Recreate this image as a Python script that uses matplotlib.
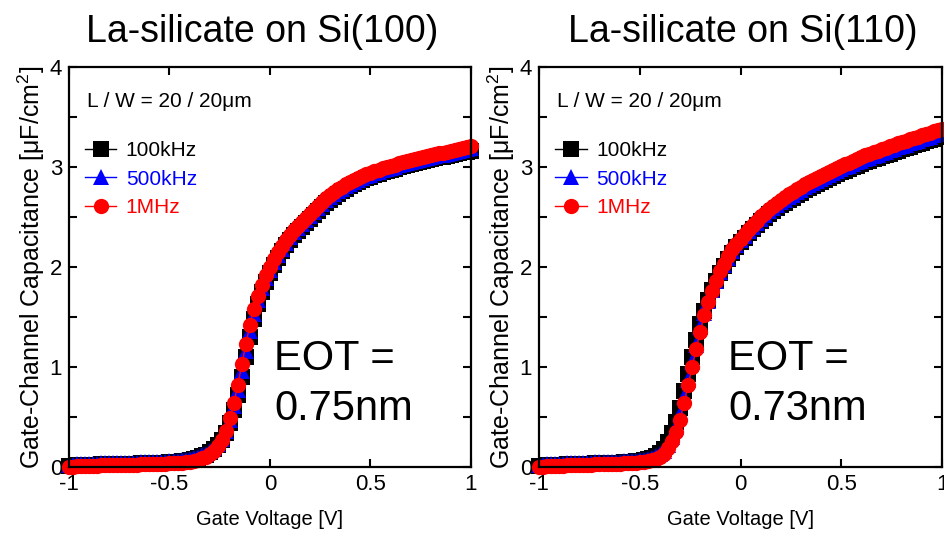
import numpy as np
import matplotlib
matplotlib.use("Agg")
import matplotlib.pyplot as plt
from matplotlib.ticker import MultipleLocator

plt.rcParams["font.family"] = ["Liberation Sans", "DejaVu Sans"]
plt.rcParams["mathtext.fontset"] = "custom"
plt.rcParams["mathtext.rm"] = "Liberation Sans"
plt.rcParams["mathtext.it"] = "Liberation Sans"

# gate voltage sweep (V), 20 mV step
VG = np.round(np.arange(-1.0, 1.001, 0.02), 2)

# ---- Si(100) : capacitance in uF/cm2 ----
S100_100K = [
    0.01, 0.01, 0.015, 0.015, 0.02, 0.02, 0.02, 0.02, 0.025, 0.025,
    0.025, 0.025, 0.025, 0.03, 0.03, 0.03, 0.03, 0.03, 0.035, 0.035,
    0.035, 0.035, 0.04, 0.04, 0.04, 0.045, 0.045, 0.05, 0.055, 0.06,
    0.07, 0.08, 0.09, 0.105, 0.12, 0.145, 0.175, 0.215, 0.27, 0.34,
    0.44, 0.57, 0.72, 0.90, 1.10, 1.30, 1.48, 1.63, 1.75, 1.85,
    1.94, 2.02, 2.09, 2.16, 2.22, 2.27, 2.32, 2.36, 2.40, 2.44,
    2.48, 2.52, 2.56, 2.60, 2.64, 2.67, 2.70, 2.73, 2.76, 2.78,
    2.81, 2.83, 2.85, 2.87, 2.89, 2.90, 2.92, 2.93, 2.95, 2.96,
    2.97, 2.98, 3.00, 3.01, 3.02, 3.03, 3.04, 3.05, 3.06, 3.07,
    3.08, 3.09, 3.10, 3.10, 3.11, 3.12, 3.13, 3.14, 3.15, 3.15, 3.16]
S100_500K = [
    0.02, 0.02, 0.025, 0.025, 0.03, 0.03, 0.03, 0.03, 0.035, 0.035,
    0.035, 0.035, 0.035, 0.04, 0.04, 0.04, 0.04, 0.04, 0.045, 0.045,
    0.045, 0.045, 0.05, 0.05, 0.05, 0.055, 0.055, 0.06, 0.065, 0.07,
    0.08, 0.09, 0.10, 0.115, 0.13, 0.155, 0.185, 0.225, 0.28, 0.355,
    0.47, 0.61, 0.77, 0.96, 1.16, 1.36, 1.53, 1.67, 1.79, 1.89,
    1.97, 2.05, 2.12, 2.18, 2.24, 2.30, 2.35, 2.39, 2.43, 2.47,
    2.51, 2.55, 2.59, 2.63, 2.67, 2.70, 2.73, 2.76, 2.78, 2.81,
    2.83, 2.85, 2.87, 2.89, 2.91, 2.92, 2.94, 2.95, 2.97, 2.98,
    2.99, 3.00, 3.02, 3.03, 3.04, 3.05, 3.06, 3.07, 3.08, 3.09,
    3.10, 3.11, 3.12, 3.12, 3.13, 3.14, 3.15, 3.16, 3.17, 3.18, 3.19]
S100_1M = [
    0.0, 0.0, 0.005, 0.005, 0.01, 0.01, 0.01, 0.01, 0.015, 0.015,
    0.015, 0.015, 0.015, 0.02, 0.02, 0.02, 0.02, 0.02, 0.025, 0.025,
    0.025, 0.025, 0.03, 0.03, 0.03, 0.035, 0.035, 0.04, 0.04, 0.045,
    0.05, 0.06, 0.07, 0.085, 0.10, 0.13, 0.16, 0.21, 0.27, 0.36,
    0.49, 0.64, 0.82, 1.03, 1.23, 1.42, 1.58, 1.71, 1.82, 1.92,
    2.00, 2.08, 2.15, 2.21, 2.27, 2.32, 2.37, 2.41, 2.45, 2.49,
    2.53, 2.57, 2.61, 2.65, 2.69, 2.72, 2.75, 2.78, 2.80, 2.83,
    2.85, 2.87, 2.89, 2.91, 2.93, 2.94, 2.96, 2.97, 2.99, 3.00,
    3.01, 3.02, 3.04, 3.05, 3.06, 3.07, 3.08, 3.09, 3.10, 3.11,
    3.12, 3.13, 3.14, 3.14, 3.15, 3.16, 3.17, 3.18, 3.19, 3.20, 3.21]

# ---- Si(110) ----
S110_100K = [
    0.01, 0.01, 0.015, 0.015, 0.02, 0.02, 0.02, 0.025, 0.025, 0.025,
    0.03, 0.03, 0.03, 0.03, 0.035, 0.035, 0.035, 0.035, 0.04, 0.04,
    0.04, 0.045, 0.045, 0.05, 0.055, 0.06, 0.065, 0.075, 0.09, 0.105,
    0.14, 0.18, 0.25, 0.34, 0.45, 0.59, 0.76, 0.93, 1.10, 1.27,
    1.43, 1.56, 1.67, 1.77, 1.86, 1.94, 2.01, 2.08, 2.14, 2.20,
    2.25, 2.29, 2.34, 2.38, 2.42, 2.46, 2.49, 2.53, 2.56, 2.59,
    2.62, 2.64, 2.67, 2.69, 2.72, 2.74, 2.77, 2.79, 2.81, 2.83,
    2.85, 2.87, 2.89, 2.91, 2.93, 2.95, 2.96, 2.98, 3.00, 3.01,
    3.03, 3.05, 3.06, 3.08, 3.09, 3.11, 3.12, 3.13, 3.15, 3.16,
    3.18, 3.19, 3.20, 3.22, 3.23, 3.24, 3.26, 3.27, 3.28, 3.30, 3.31]
S110_500K = [
    0.02, 0.02, 0.025, 0.025, 0.03, 0.03, 0.03, 0.035, 0.035, 0.035,
    0.04, 0.04, 0.04, 0.04, 0.045, 0.045, 0.045, 0.045, 0.05, 0.05,
    0.05, 0.055, 0.055, 0.06, 0.06, 0.065, 0.07, 0.08, 0.09, 0.105,
    0.125, 0.16, 0.22, 0.30, 0.40, 0.53, 0.70, 0.87, 1.05, 1.22,
    1.40, 1.54, 1.66, 1.77, 1.86, 1.95, 2.02, 2.09, 2.16, 2.22,
    2.27, 2.31, 2.36, 2.40, 2.44, 2.48, 2.52, 2.56, 2.59, 2.62,
    2.65, 2.67, 2.70, 2.72, 2.75, 2.77, 2.80, 2.82, 2.84, 2.86,
    2.88, 2.90, 2.92, 2.94, 2.96, 2.98, 3.00, 3.01, 3.03, 3.05,
    3.06, 3.08, 3.09, 3.11, 3.12, 3.14, 3.15, 3.17, 3.18, 3.20,
    3.21, 3.22, 3.24, 3.25, 3.26, 3.28, 3.29, 3.30, 3.32, 3.33, 3.34]
S110_1M = [
    0.0, 0.0, 0.005, 0.005, 0.01, 0.01, 0.01, 0.015, 0.015, 0.015,
    0.02, 0.02, 0.02, 0.02, 0.025, 0.025, 0.025, 0.025, 0.03, 0.03,
    0.03, 0.035, 0.035, 0.04, 0.04, 0.045, 0.05, 0.055, 0.065, 0.08,
    0.10, 0.13, 0.19, 0.26, 0.35, 0.47, 0.64, 0.82, 1.00, 1.18,
    1.35, 1.52, 1.65, 1.76, 1.86, 1.96, 2.03, 2.11, 2.18, 2.23,
    2.28, 2.33, 2.38, 2.42, 2.46, 2.51, 2.54, 2.58, 2.61, 2.64,
    2.67, 2.70, 2.73, 2.75, 2.78, 2.80, 2.83, 2.85, 2.87, 2.89,
    2.91, 2.93, 2.95, 2.97, 2.99, 3.01, 3.03, 3.04, 3.06, 3.08,
    3.10, 3.12, 3.13, 3.15, 3.16, 3.18, 3.19, 3.21, 3.22, 3.24,
    3.25, 3.26, 3.28, 3.29, 3.30, 3.32, 3.33, 3.34, 3.36, 3.37, 3.38]

LABELS = ["100kHz", "500kHz", "1MHz"]
COLORS = ["black", "blue", "red"]
MARKERS = ["s", "^", "o"]

PANELS = [
    ("La-silicate on Si(100)", 0.48, [S100_100K, S100_500K, S100_1M], "0.75nm", 0.510),
    ("La-silicate on Si(110)", 0.506, [S110_100K, S110_500K, S110_1M], "0.73nm", 0.469),
]

fig = plt.figure(figsize=(9.44, 5.34), dpi=100)
axes = [fig.add_axes([0.0731, 0.1255, 0.4258, 0.749]),
        fig.add_axes([0.571, 0.1255, 0.4269, 0.749])]

for ax, (title, title_x, series, eot, eot_x) in zip(axes, PANELS):
    for ys, lab, col, mk in zip(series, LABELS, COLORS, MARKERS):
        ax.plot(VG, ys, color=col, marker=mk, markersize=11, markeredgewidth=0,
                linewidth=1, label=lab, clip_on=False)
    ax.set_xlim(-1, 1)
    ax.set_ylim(0, 4)
    ax.set_xticks([-1, -0.5, 0, 0.5, 1])
    ax.set_xticklabels(["-1", "-0.5", "0", "0.5", "1"])
    ax.yaxis.set_major_locator(MultipleLocator(1))
    ax.yaxis.set_minor_locator(MultipleLocator(0.5))
    ax.tick_params(which="both", direction="in", top=True, right=True,
                   length=6, width=1.5, labelsize=16, pad=5)
    for sp in ax.spines.values():
        sp.set_linewidth(1.6)
    ax.set_xlabel("Gate Voltage [V]", fontsize=14.5, labelpad=11)
    ax.set_ylabel("Gate-Channel Capacitance [μF/cm$^2$]", fontsize=18, labelpad=2)
    ax.set_title(title, fontsize=27, pad=18, x=title_x)
    ax.text(0.045, 0.913, "L / W = 20 / 20μm", transform=ax.transAxes,
            fontsize=15, va="center", ha="left")
    ax.text(eot_x, 0.2425, "EOT =", transform=ax.transAxes, fontsize=30,
            va="baseline", ha="left")
    ax.text(eot_x, 0.1175, eot, transform=ax.transAxes, fontsize=30,
            va="baseline", ha="left")
    ax.legend(loc="upper left", bbox_to_anchor=(0.03, 0.825), frameon=False,
              fontsize=15, handlelength=1.5, handletextpad=0.45,
              labelspacing=0.45, borderaxespad=0.0, borderpad=0.2,
              labelcolor=COLORS)

fig.savefig("out.png", dpi=100)
